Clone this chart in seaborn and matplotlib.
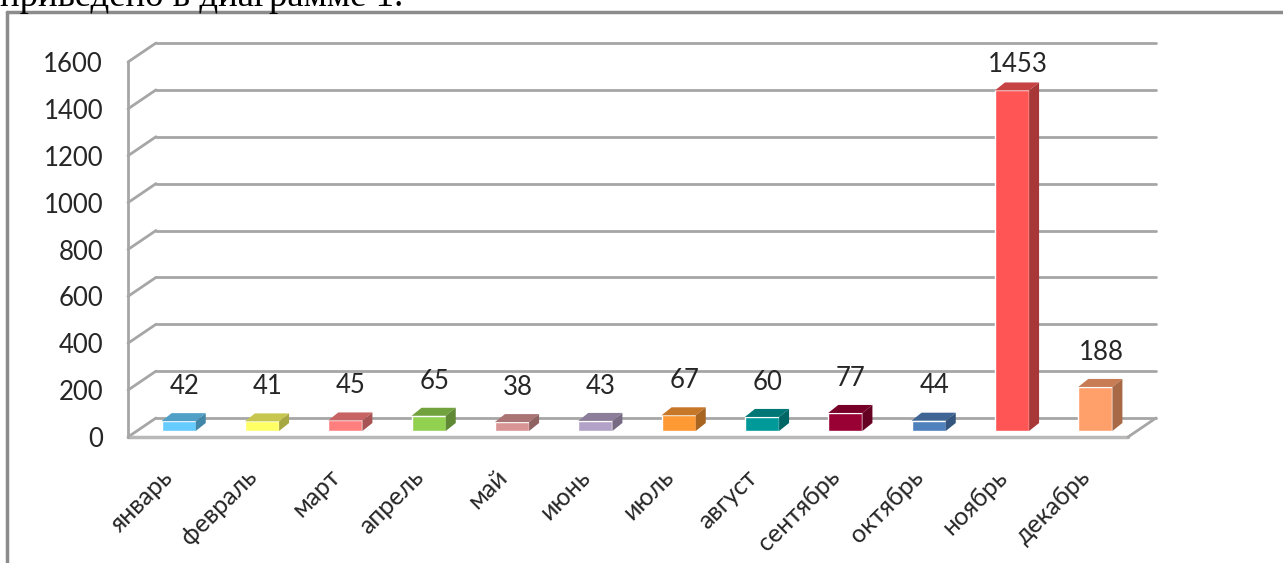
import matplotlib
matplotlib.use("Agg")
import matplotlib.pyplot as plt
import matplotlib.colors as mcolors
from matplotlib.lines import Line2D
import numpy as np
import pandas as pd
import seaborn as sns

months = ["январь", "февраль", "март", "апрель", "май", "июнь",
          "июль", "август", "сентябрь", "октябрь", "ноябрь", "декабрь"]
values = [42, 41, 45, 65, 38, 43, 67, 60, 77, 44, 1453, 188]
colors = ["#66CCFF", "#FFFF66", "#FF7F7F", "#92D050", "#D99594", "#B3A2C7",
          "#FF9933", "#009999", "#990033", "#4F81BD", "#FF5555", "#FF9F6A"]
yticks = [0, 200, 400, 600, 800, 1000, 1200, 1400, 1600]

W, H = 1283, 563
fig = plt.figure(figsize=(W / 100, H / 100), dpi=100)
sns.set_style("white")
plt.rcParams["font.family"] = ["Lato", "DejaVu Sans"]

# front plane of the fake 3d box, in pixels
left, right, top, bottom = 128, 1128, 62, 437
ax = fig.add_axes([left / W, 1 - bottom / H, (right - left) / W, (bottom - top) / H])

df = pd.DataFrame({"month": months, "value": values})
sns.barplot(data=df, x="month", y="value", hue="month", palette=colors,
            legend=False, width=0.41, saturation=1, ax=ax, zorder=3)

ax.set_xlim(-0.5, len(months) - 0.5)
ax.set_ylim(0, 1600)

# pixel -> data conversion
ux = (right - left) / len(months)
uy = (bottom - top) / 1600
bx, by = 9 / ux, 6 / uy      # bars sit a bit behind the front plane
dx, dy = 10 / ux, 8 / uy     # bar depth
wx, wy = 28 / ux, 19 / uy    # wall depth

grid_c = "#A6A6A6"
x0, x1 = -0.5, len(months) - 0.5
for v in yticks:
    ax.plot([x0 + wx, x1 + wx], [v + wy, v + wy], color=grid_c, lw=2,
            clip_on=False, zorder=1)
    ax.plot([x0, x0 + wx], [v, v + wy], color=grid_c, lw=2, clip_on=False, zorder=1)
ax.plot([x0, x1], [0, 0], color="#B8B8B8", lw=2.5, clip_on=False, zorder=1)
ax.plot([x1, x1 + wx], [0, wy], color=grid_c, lw=2, clip_on=False, zorder=1)

for i, (p, v, c) in enumerate(zip(ax.patches, values, colors)):
    p.set_x(p.get_x() + bx)
    p.set_y(by)
    p.set_clip_on(False)
    xl = p.get_x()
    xr = xl + p.get_width()
    yb, yt = by, by + v
    dark = np.array(mcolors.to_rgb(c))
    ax.fill([xl, xr, xr + dx, xl + dx], [yt, yt, yt + dy, yt + dy],
            color=dark * 0.78, zorder=3, clip_on=False, lw=0)
    ax.fill([xr, xr + dx, xr + dx, xr], [yb, yb + dy, yt + dy, yt],
            color=dark * 0.66, zorder=3, clip_on=False, lw=0)
    ax.annotate(str(v), xy=(i + bx, yt), xytext=(4, 25 if v < 1000 else 19),
                textcoords="offset points", ha="center", va="center",
                fontsize=18.5, color="#262626", annotation_clip=False)

sns.despine(ax=ax, left=False, bottom=True)
ax.spines["left"].set_color(grid_c)
ax.spines["left"].set_linewidth(2)
ax.set_yticks(yticks)
ax.tick_params(axis="y", length=6, width=1.5, color=grid_c, pad=12,
               labelsize=18.5, labelcolor="#262626")
ax.tick_params(axis="x", length=0, pad=26, labelsize=18, labelcolor="#262626")
ax.set_xticks(range(len(months)))
ax.set_xticklabels(months, rotation=45, ha="right", va="center",
                   rotation_mode="anchor")
ax.set_xlabel("")
ax.set_ylabel("")

# frame around the chart and the cut-off line of text above it
fig.add_artist(Line2D([7 / W, 7 / W], [0, 1 - 11.5 / H], color="#8C8C8C", lw=2.5))
fig.add_artist(Line2D([7 / W, 1], [1 - 11.5 / H, 1 - 11.5 / H], color="#8C8C8C", lw=2.5))
fig.text(0, 1 - 6 / H, "приведено в диаграмме 1.", family="Liberation Serif",
         fontsize=26.5, va="baseline", ha="left", color="black")

fig.savefig("out.png", dpi=100)
